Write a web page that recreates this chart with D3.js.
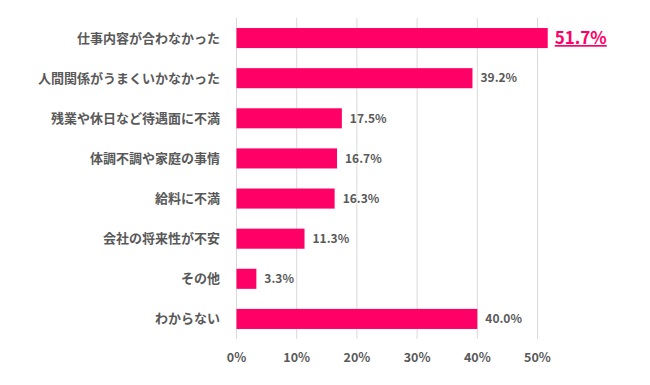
<!DOCTYPE html>
<html>
<head>
<meta charset="utf-8">
<script src="https://cdn.jsdelivr.net/npm/d3@7"></script>
<style>
  body { margin: 0; background: #fff; }
  svg text { font-family: "Noto Sans CJK JP", sans-serif; }
</style>
</head>
<body>
<div id="chart"></div>
<script>
// reasons, top to bottom
const categories = [
  '仕事内容が合わなかった',
  '人間関係がうまくいかなかった',
  '残業や休日など待遇面に不満',
  '体調不調や家庭の事情',
  '給料に不満',
  '会社の将来性が不安',
  'その他',
  'わからない'
];
const values = [51.7, 39.2, 17.5, 16.7, 16.3, 11.3, 3.3, 40.0];
const ticks = [0, 10, 20, 30, 40, 50];

const width = 650, height = 385;
const margin = { top: 18, right: 80, bottom: 46, left: 236.5 };
const pink = '#ff0066';
const textColor = '#595959';

const svg = d3.select('#chart')
  .append('svg')
  .attr('width', width)
  .attr('height', height);

const x = d3.scaleLinear()
  .domain([0, 50])
  .range([margin.left, margin.left + 301]);

const y = d3.scaleBand()
  .domain(categories)
  .range([margin.top, height - margin.bottom])
  .paddingInner(0.5)
  .paddingOuter(0.25);

// gridlines
svg.append('g')
  .selectAll('line')
  .data(ticks)
  .join('line')
  .attr('x1', d => x(d))
  .attr('x2', d => x(d))
  .attr('y1', margin.top)
  .attr('y2', height - margin.bottom)
  .attr('stroke', '#d9d9d9')
  .attr('stroke-width', 1);

// x tick labels
svg.append('g')
  .selectAll('text')
  .data(ticks)
  .join('text')
  .attr('x', d => x(d))
  .attr('y', 362)
  .attr('text-anchor', 'middle')
  .attr('font-size', 12.5)
  .attr('font-weight', 'bold')
  .attr('fill', textColor)
  .text(d => d + '%');

// bars
svg.append('g')
  .selectAll('rect')
  .data(values)
  .join('rect')
  .attr('x', x(0))
  .attr('y', (d, i) => y(categories[i]))
  .attr('width', d => x(d) - x(0))
  .attr('height', y.bandwidth())
  .attr('fill', pink);

// category labels
svg.append('g')
  .selectAll('text')
  .data(categories)
  .join('text')
  .attr('x', 220)
  .attr('y', d => y(d) + y.bandwidth() / 2)
  .attr('dy', '0.35em')
  .attr('text-anchor', 'end')
  .attr('font-size', 13)
  .attr('font-weight', 'bold')
  .attr('fill', textColor)
  .text(d => d);

// value labels (the top one is highlighted)
const maxVal = d3.max(values);
svg.append('g')
  .selectAll('text')
  .data(values)
  .join('text')
  .attr('x', d => x(d) + (d === maxVal ? 7 : 8))
  .attr('y', (d, i) => y(categories[i]) + y.bandwidth() / 2)
  .attr('dy', '0.35em')
  .attr('font-size', d => d === maxVal ? 17 : 12)
  .attr('font-weight', 'bold')
  .attr('fill', d => d === maxVal ? pink : textColor)
  .attr('text-decoration', d => d === maxVal ? 'underline' : null)
  .text(d => d.toFixed(1) + '%');
</script>
</body>
</html>
